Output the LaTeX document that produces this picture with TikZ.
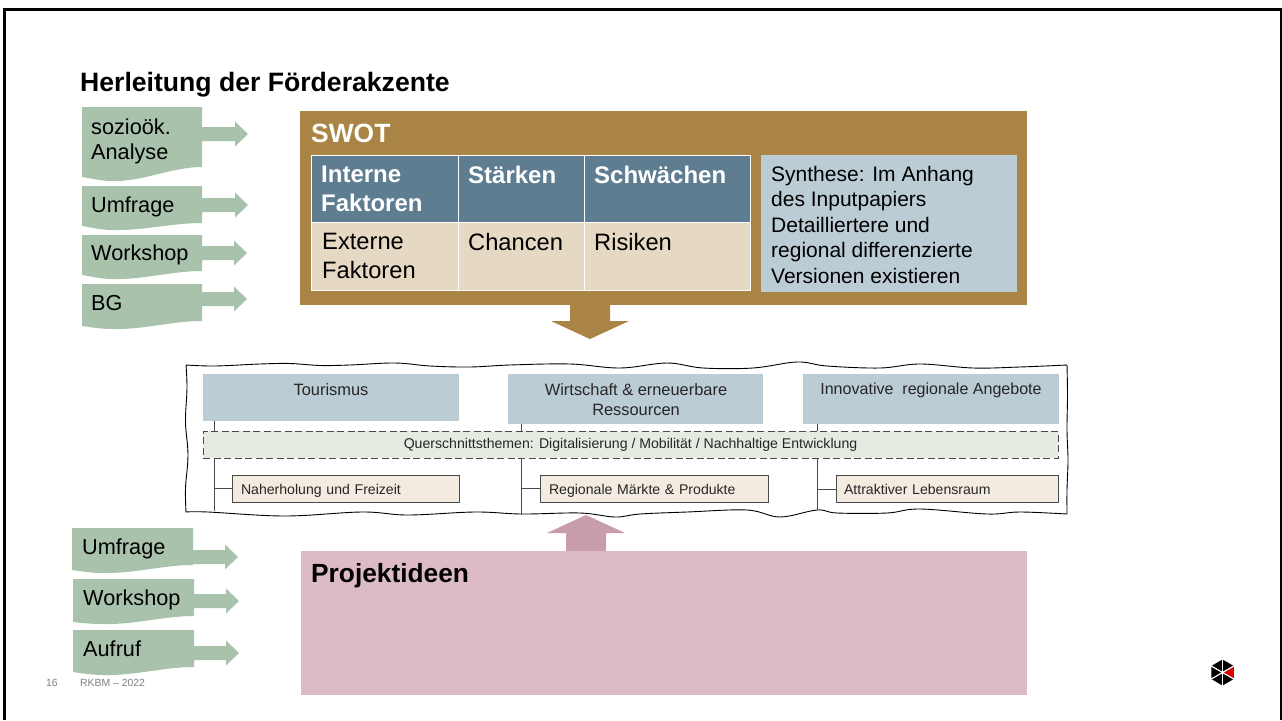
\documentclass[tikz,border=0pt]{standalone}
\usepackage{fontspec}
\setmainfont{Liberation Sans}
\definecolor{docgreen}{HTML}{A9C2AB}
\definecolor{swotbrown}{HTML}{A98444}
\definecolor{headblue}{HTML}{5F7D91}
\definecolor{bodybeige}{HTML}{E6D9C3}
\definecolor{paleblue}{HTML}{BCCCD5}
\definecolor{palegreen}{HTML}{E4EBE1}
\definecolor{palecream}{HTML}{F3EBDF}
\definecolor{rosebox}{HTML}{DDBBC6}
\definecolor{rosearrow}{HTML}{C99CA9}
\definecolor{linegray}{HTML}{4A4A4A}
\newcommand{\fsz}[2]{\fontsize{#1}{#2}\selectfont}
\newcommand{\docshape}[6]{% x0,x1,top,rightbottom,leftbottom,low
  \fill[docgreen] (#1,#3) -- (#2,#3) -- (#2,#4)
    .. controls ({#2-30},{#4}) and ({#1+60},{#6+1}) .. ({#1+30},{#6})
    .. controls ({#1+18},{#6}) and ({#1+8},{#5+1}) .. (#1,#5) -- cycle;}
\newcommand{\rarrow}[4]{% x0,y,xhead,xtip
  \fill[docgreen] (#1,{#2-7}) -- (#3,{#2-7}) -- (#3,{#2-12.5}) -- (#4,#2) -- (#3,{#2+12.5}) -- (#3,{#2+7}) -- (#1,{#2+7}) -- cycle;}
\tikzset{
  lbl/.style={anchor=north west,inner sep=0pt,align=left,text=black},
  doclbl/.style={lbl,font=\fsz{21.7}{25}},
  swotlbl/.style={lbl,font=\fsz{23.7}{29}},
  swothead/.style={lbl,font=\fsz{24}{29}\bfseries,text=white},
  box/.style={anchor=north west,inner sep=0pt,outer sep=0pt,text=black!85},
  pillar/.style={box,fill=paleblue},
  pillarlbl/.style={lbl,font=\fsz{16.4}{20},text=black!85,align=center,anchor=north},
  sub/.style={box,fill=palecream,draw=linegray,line width=1pt,font=\fsz{14.1}{18},text height=13pt,text depth=2pt,align=left,anchor=center,minimum height=27pt},
  conn/.style={draw=linegray,line width=1pt},
}
\begin{document}
\begin{tikzpicture}[x=1pt,y=-1pt]
\useasboundingbox (0,0) rectangle (1282,720);
\draw[line width=2.6pt] (4.5,720) -- (4.5,9.2) -- (1281,9.2) -- (1281,720);
\node[lbl,font=\fsz{26.6}{30}\bfseries] (title) at (80,72) {Herleitung der Förderakzente};
% upper inputs
\docshape{82}{202}{107}{167}{177}{181}
\docshape{82}{202}{186}{223}{226}{230}
\docshape{82}{202}{235}{271}{275}{279}
\docshape{82}{202}{284}{321}{326}{329}
\rarrow{202}{134}{235}{248}
\rarrow{202}{205}{235}{248}
\rarrow{202}{253}{234}{247}
\rarrow{202}{299}{234}{247}
\node[doclbl] (a1) at (91,119) {sozioök.\\Analyse};
\node[doclbl] (a2) at (91,197) {Umfrage};
\node[doclbl] (a3) at (91,245) {Workshop};
\node[doclbl] (a4) at (91,295) {BG};
% SWOT
\fill[swotbrown] (300,111) rectangle (1027,305);
\fill[swotbrown] (570,305) -- (610,305) -- (610,321) -- (629,321) -- (590,339) -- (551,321) -- (570,321) -- cycle;
\node[lbl,font=\fsz{26.4}{30}\bfseries,text=white] (swot) at (311,124) {SWOT};
\fill[headblue] (311,155) rectangle (750,222);
\fill[bodybeige] (311,222) rectangle (750,290);
\draw[white,line width=1pt] (311,155) rectangle (750,290) (311,222) -- (750,222) (458,155) -- (458,290) (584,155) -- (584,290);
\node[swothead] (c1) at (321,166) {Interne\\Faktoren};
\node[swothead] (c2) at (468,166) {Stärken};
\node[swothead] (c3) at (594,166) {Schwächen};
\node[swotlbl] (c4) at (322,233) {Externe\\Faktoren};
\node[swotlbl] (c5) at (468,233) {Chancen};
\node[swotlbl] (c6) at (594,233) {Risiken};
\fill[paleblue] (761,155) rectangle (1017,292);
\node[lbl,font=\fsz{21}{25.5}] (syn) at (771,166) {Synthese: Im Anhang\\des Inputpapiers\\Detailliertere und\\regional differenzierte\\Versionen existieren};
% wavy frame
\draw[black,line width=.9pt,fill=white,line join=round]
  plot[smooth,tension=.6] coordinates {(186,365)(215,366)(260,364)(290,363.5)(320,365.5)(350,365)(395,363)(430,366)(470,367)(510,365)(570,364)(620,368)(667,363)(703,368)(753,368)(797,362)(827,366)(880,368)(920,364)(973,368)(1020,367)(1067,365)}
  -- plot[smooth,tension=.6] coordinates {(1067,365)(1067.5,395)(1067,430)(1068,460)(1067,490)(1067,514)}
  -- plot[smooth,tension=.6] coordinates {(1067,514)(1020,512)(987,514)(920,509)(887,513)(837,513)(817,510)(780,517)(747,510)(687,512)(640,514)(615,517)(580,513)(522,514)(475,512)(408,515)(362,512)(285,516)(208,512)(186,512)}
  -- plot[smooth,tension=.6] coordinates {(186,512)(185.5,488)(188,455)(185.5,422)(187,388)(186,365)};
% pillars
\node[pillar,minimum width=256pt,minimum height=47pt] (p1) at (203,374) {};
\node[pillar,minimum width=255pt,minimum height=50pt] (p2) at (508,374) {};
\node[pillar,minimum width=256pt,minimum height=50pt] (p3) at (803,374) {};
\node[pillarlbl] (p1t) at (331,383) {Tourismus};
\node[pillarlbl] (p2t) at (636,383) {Wirtschaft \& erneuerbare\\Ressourcen};
\node[pillarlbl,font=\fsz{16.05}{20}] (p3t) at (931,383) {Innovative~ regionale Angebote};
\node[box,fill=palegreen,draw=linegray,dash pattern=on 7pt off 3.5pt,line width=1pt,minimum width=855pt,minimum height=27pt,font=\fsz{14.1}{16},anchor=center] (quer) at (630.5,444.5) {Querschnittsthemen: Digitalisierung / Mobilität / Nachhaltige Entwicklung};
\node[sub,minimum width=227pt,text width=209pt] (s1) at (345.5,488.5) {Naherholung und Freizeit};
\node[sub,minimum width=228pt,text width=210pt] (s2) at (654,488.5) {Regionale Märkte \& Produkte};
\node[sub,minimum width=222pt,text width=206pt] (s3) at (947,489) {Attraktiver Lebensraum};
\coordinate (l1) at (214,511);
\coordinate (l2) at (521,515);
\coordinate (l3) at (817,510);
\draw[conn] (l1 |- p1.south) -- (l1 |- quer.north);
\draw[conn] (l2 |- p2.south) -- (l2 |- quer.north);
\draw[conn] (l3 |- p3.south) -- (l3 |- quer.north);
\draw[conn] (l1 |- quer.south) -- (l1);
\draw[conn] (l2 |- quer.south) -- (l2);
\draw[conn] (l3 |- quer.south) -- (l3);
\draw[conn] (l1 |- s1.west) -- (s1.west);
\draw[conn] (l2 |- s2.west) -- (s2.west);
\draw[conn] (l3 |- s3.west) -- (s3.west);
% Projektideen
\fill[rosebox] (301,551) rectangle (1027,695);
\fill[rosearrow] (566,551) -- (606,551) -- (606,533) -- (625,533) -- (586,515) -- (547,533) -- (566,533) -- cycle;
\node[lbl,font=\fsz{26.3}{30}\bfseries] (proj) at (311,563) {Projektideen};
% lower inputs
\docshape{72}{193}{528}{565}{570}{573}
\docshape{73}{194}{579}{616}{622}{624}
\docshape{73}{194}{630}{667}{672}{675}
\rarrow{193}{557}{225}{238}
\rarrow{194}{601}{226}{239}
\rarrow{194}{653}{226}{239}
\node[doclbl] (b1) at (82,539) {Umfrage};
\node[doclbl] (b2) at (83,590) {Workshop};
\node[doclbl] (b3) at (83,641) {Aufruf};
% footer
\node[lbl,font=\fsz{10.4}{12},text=black!50] (f1) at (46,679.5) {16};
\node[lbl,font=\fsz{10.4}{12},text=black!50] (f2) at (80,679.5) {RKBM – 2022};
% logo
\begin{scope}[shift={(1222.5,672.5)}]
  \foreach \a/\c in {30/black,90/black,150/black,210/black,270/black,-30/red!85!black}{
    \fill[\c] (0,0) -- ({13*cos(\a)},{13*sin(\a)}) -- ({13*cos(\a+60)},{13*sin(\a+60)}) -- cycle;}
  \foreach \a in {30,90,150}{\draw[white,line width=1.2pt] ({-14*cos(\a)},{-14*sin(\a)}) -- ({14*cos(\a)},{14*sin(\a)});}
\end{scope}
\end{tikzpicture}
\end{document}
